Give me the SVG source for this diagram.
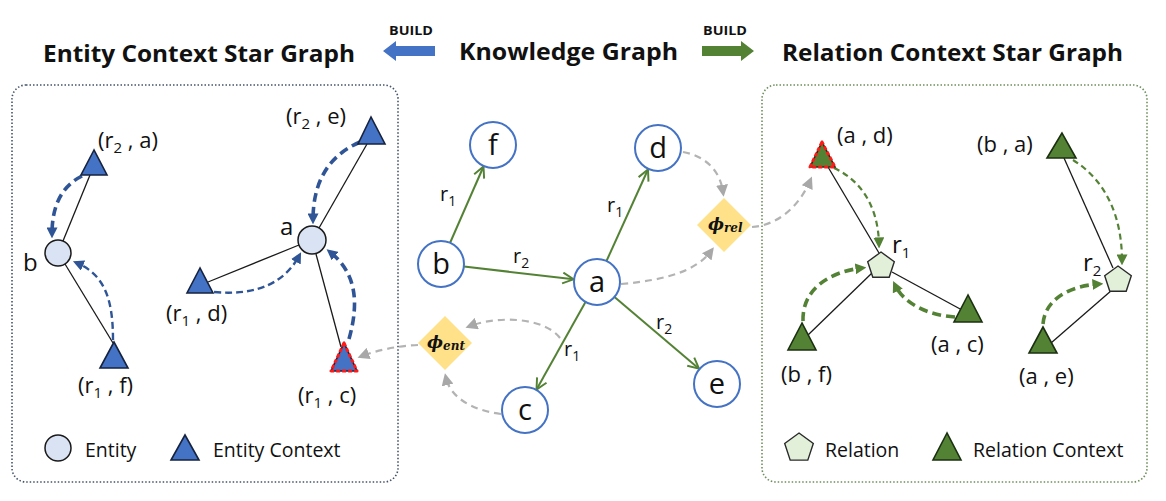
<svg xmlns="http://www.w3.org/2000/svg" width="1166" height="501" viewBox="0 0 1166 501">
<style>
  text { font-family: "Open Sans", "Noto Sans", sans-serif; fill: #111; }
  .title { font-weight: bold; font-size: 24px; }
  .build { font-weight: bold; font-size: 11.5px; }
  .lbl { font-size: 22px; }
  .sub { font-size: 15px; }
  .node { font-size: 29px; text-anchor: middle; }
  .elbl { font-size: 20px; }
  .esub { font-size: 14px; }
  .leg { font-size: 19.5px; }
  .phi { font-family: "DejaVu Serif", "Liberation Serif", serif; font-weight: bold; font-style: italic; font-size: 17px; }
  .kgc { fill: #fff; stroke: #4472C4; stroke-width: 2; }
  .ent { fill: #DAE3F3; stroke: #1a1a1a; stroke-width: 1.5; }
  .ectx { fill: #4472C4; stroke: #15233f; stroke-width: 1.6; }
  .rel { fill: #E2F0D9; stroke: #2a2a2a; stroke-width: 1.4; }
  .rctx { fill: #548235; stroke: #1b3010; stroke-width: 1.6; }
  .hl { stroke: #FF1A1A; stroke-width: 3; stroke-dasharray: 4 2; stroke-linejoin: round; }
  .blk { stroke: #1a1a1a; stroke-width: 1.3; fill: none; }
  .ge { stroke: #548235; stroke-width: 2; fill: none; }
  .gray { stroke: #B3B3B3; stroke-width: 2.2; stroke-dasharray: 7 5; fill: none; }
  .bthick { stroke: #2F5597; stroke-width: 3.6; stroke-dasharray: 9 5; fill: none; }
  .bthin { stroke: #2F5597; stroke-width: 2.4; stroke-dasharray: 7 4; fill: none; }
  .gthick { stroke: #548235; stroke-width: 3.6; stroke-dasharray: 9 5; fill: none; }
  .gthin { stroke: #548235; stroke-width: 2.2; stroke-dasharray: 6 4; fill: none; }
  .diam { fill: #FFE189; }
</style>
<defs>
  <marker id="mb" viewBox="0 0 10 10" refX="6" refY="5" markerWidth="11" markerHeight="11" markerUnits="userSpaceOnUse" orient="auto"><path d="M0,0 L10,5 L0,10 z" fill="#2F5597"/></marker>
  <marker id="mg" viewBox="0 0 10 10" refX="6" refY="5" markerWidth="11" markerHeight="11" markerUnits="userSpaceOnUse" orient="auto"><path d="M0,0 L10,5 L0,10 z" fill="#548235"/></marker>
  <marker id="mgr" viewBox="0 0 10 10" refX="6" refY="5" markerWidth="12" markerHeight="12" markerUnits="userSpaceOnUse" orient="auto"><path d="M0,0 L10,5 L0,10 z" fill="#A8A8A8"/></marker>
  <marker id="mo" viewBox="0 0 12 12" refX="11" refY="6" markerWidth="13" markerHeight="13" markerUnits="userSpaceOnUse" orient="auto"><path d="M1,1 L11,6 L1,11" fill="none" stroke="#548235" stroke-width="1.8"/></marker>
</defs>
<rect width="1166" height="501" fill="#fff"/>

<!-- Titles -->
<g id="titles">
  <text class="title" x="43" y="62" textLength="312" lengthAdjust="spacingAndGlyphs">Entity Context Star Graph</text>
  <text class="title" x="459" y="60" textLength="219" lengthAdjust="spacingAndGlyphs">Knowledge Graph</text>
  <text class="title" x="782" y="61" textLength="341" lengthAdjust="spacingAndGlyphs">Relation Context Star Graph</text>
  <text class="build" x="389" y="35" textLength="44" lengthAdjust="spacingAndGlyphs">BUILD</text>
  <text class="build" x="703" y="35" textLength="44" lengthAdjust="spacingAndGlyphs">BUILD</text>
  <polygon points="383,51 396,41 396,46 435,46 435,56 396,56 396,61" fill="#4472C4"/>
  <polygon points="702,46 741,46 741,41 754,51 741,61 741,56 702,56" fill="#548235"/>
</g>

<!-- Panels -->
<g id="panel-entity">
  <rect x="12" y="85" width="386" height="397" rx="14" fill="none" stroke="#44546A" stroke-width="1.6" stroke-dasharray="1.5 2"/>
</g>
<g id="panel-relation">
  <rect x="762" y="85" width="385" height="397" rx="14" fill="none" stroke="#6E8F5C" stroke-width="1.6" stroke-dasharray="1.5 2"/>
</g>

<!-- Connectors -->
<g id="connectors">
  <!-- entity star graph lines -->
  <line class="blk" x1="90" y1="175" x2="63" y2="241"/>
  <line class="blk" x1="65" y1="264" x2="113" y2="343"/>
  <line class="blk" x1="367" y1="144" x2="319" y2="228"/>
  <line class="blk" x1="208" y1="282" x2="299" y2="245"/>
  <line class="blk" x1="316" y1="254" x2="341" y2="347"/>
  <path class="bthick" d="M82 176 C 62 186 52 205 52 234" marker-end="url(#mb)"/>
  <path class="bthin" d="M113 340 C 113 300 105 275 77 263" marker-end="url(#mb)"/>
  <path class="bthick" d="M360 142 C 330 155 313 180 313 220" marker-end="url(#mb)"/>
  <path class="bthin" d="M214 292 C 258 296 285 282 299 256" marker-end="url(#mb)"/>
  <path class="bthick" d="M349 339 C 360 300 355 272 330 252" marker-end="url(#mb)"/>

  <!-- knowledge graph edges -->
  <line class="ge" x1="450" y1="243" x2="483.5" y2="166.5" marker-end="url(#mo)"/>
  <line class="ge" x1="606.5" y1="261" x2="648" y2="169.5" marker-end="url(#mo)"/>
  <line class="ge" x1="464" y1="266.5" x2="573.5" y2="279.3" marker-end="url(#mo)"/>
  <line class="ge" x1="585.5" y1="302" x2="536.5" y2="389.5" marker-end="url(#mo)"/>
  <line class="ge" x1="614.5" y1="297" x2="699" y2="368.7" marker-end="url(#mo)"/>

  <!-- gray aggregation arrows -->
  <path class="gray" d="M683 152 C 705 156 720 170 723 192" marker-end="url(#mgr)"/>
  <path class="gray" d="M621 284 C 668 280 697 270 711 251" marker-end="url(#mgr)"/>
  <path class="gray" d="M752 227 C 780 225 800 204 810 181" marker-end="url(#mgr)"/>
  <path class="gray" d="M501 414 C 470 410 450 396 446 378" marker-end="url(#mgr)"/>
  <path class="gray" d="M560 338 C 545 318 500 315 470 326" marker-end="url(#mgr)"/>
  <path class="gray" d="M418 345 C 397 346 378 350 362 356" marker-end="url(#mgr)"/>

  <!-- relation star graph lines -->
  <line class="blk" x1="828" y1="167" x2="879" y2="253"/>
  <line class="blk" x1="1064" y1="158" x2="1113" y2="268"/>
  <line class="blk" x1="808" y1="335" x2="872" y2="273"/>
  <line class="blk" x1="962" y1="310" x2="892" y2="272"/>
  <line class="blk" x1="1051" y1="343" x2="1112" y2="290"/>
  <path class="gthin" d="M834 168 C 860 180 878 205 879 244" marker-end="url(#mg)"/>
  <path class="gthin" d="M1073 160 C 1105 180 1122 215 1122 261" marker-end="url(#mg)"/>
  <path class="gthick" d="M803 321 C 802 290 828 272 862 268" marker-end="url(#mg)"/>
  <path class="gthick" d="M955 317 C 925 315 903 302 895 285" marker-end="url(#mg)"/>
  <path class="gthick" d="M1043 324 C 1045 300 1068 286 1099 284" marker-end="url(#mg)"/>
</g>

<!-- Entity context star graph nodes -->
<g id="ent-b">
  <circle class="ent" cx="58" cy="253" r="13"/>
  <text x="23" y="271" font-size="24">b</text>
</g>
<g id="ent-a">
  <circle class="ent" cx="312" cy="240" r="14"/>
  <text x="280" y="235" font-size="24">a</text>
</g>
<g id="ectx-r2a">
  <polygon class="ectx" points="94,150 81,175 107,175"/>
  <text class="lbl" x="98" y="148">(r<tspan class="sub" dy="5">2</tspan><tspan dy="-5"> , a)</tspan></text>
</g>
<g id="ectx-r1f">
  <polygon class="ectx" points="114,342 100,368 128,368"/>
  <text class="lbl" x="78" y="393">(r<tspan class="sub" dy="5">1</tspan><tspan dy="-5"> , f)</tspan></text>
</g>
<g id="ectx-r2e">
  <polygon class="ectx" points="371,117 358,144 385,144"/>
  <text class="lbl" x="286" y="124">(r<tspan class="sub" dy="5">2</tspan><tspan dy="-5"> , e)</tspan></text>
</g>
<g id="ectx-r1d">
  <polygon class="ectx" points="200,268 187,293 213,293"/>
  <text class="lbl" x="166" y="321">(r<tspan class="sub" dy="5">1</tspan><tspan dy="-5"> , d)</tspan></text>
</g>
<g id="ectx-r1c">
  <polygon class="ectx" points="344,343 331,371 357,371" stroke="none"/>
  <polygon class="hl" points="344,343 331,371 357,371" fill="none"/>
  <text class="lbl" x="298" y="403">(r<tspan class="sub" dy="5">1</tspan><tspan dy="-5"> , c)</tspan></text>
</g>
<g id="legend-entity">
  <circle class="ent" cx="58" cy="448" r="13"/>
  <text class="leg" x="85" y="457">Entity</text>
  <polygon class="ectx" points="185,435 171,460 199,460"/>
  <text class="leg" x="213" y="457">Entity Context</text>
</g>

<!-- Knowledge graph nodes -->
<g id="kg-f"><circle class="kgc" cx="493" cy="145" r="23"/><text class="node" x="493" y="155">f</text></g>
<g id="kg-d"><circle class="kgc" cx="658" cy="148" r="23"/><text class="node" x="658" y="158">d</text></g>
<g id="kg-b"><circle class="kgc" cx="441" cy="264" r="23"/><text class="node" x="441" y="274">b</text></g>
<g id="kg-a"><circle class="kgc" cx="597" cy="282" r="23"/><text class="node" x="597" y="292">a</text></g>
<g id="kg-c"><circle class="kgc" cx="525" cy="410" r="23"/><text class="node" x="525" y="420">c</text></g>
<g id="kg-e"><circle class="kgc" cx="717" cy="384" r="23"/><text class="node" x="717" y="394">e</text></g>
<g id="kg-labels">
  <text class="elbl" x="440" y="201">r<tspan class="esub" dy="5">1</tspan></text>
  <text class="elbl" x="607" y="212">r<tspan class="esub" dy="5">1</tspan></text>
  <text class="elbl" x="513" y="263">r<tspan class="esub" dy="5">2</tspan></text>
  <text class="elbl" x="564" y="356">r<tspan class="esub" dy="5">1</tspan></text>
  <text class="elbl" x="656" y="329">r<tspan class="esub" dy="5">2</tspan></text>
</g>
<g id="phi-rel">
  <polygon class="diam" points="724,198 751,225 724,252 697,225"/>
  <text class="phi" x="708" y="230">ϕ<tspan font-size="12" dy="2">rel</tspan></text>
</g>
<g id="phi-ent">
  <polygon class="diam" points="445,316 472,343 445,370 418,343"/>
  <text class="phi" x="427" y="348">ϕ<tspan font-size="12" dy="2">ent</tspan></text>
</g>

<!-- Relation context star graph nodes -->
<g id="rel-r1">
  <polygon class="rel" points="881,252 894.3,261.7 889.2,277.3 872.8,277.3 867.7,261.7"/>
  <text x="892" y="253" font-size="24">r<tspan font-size="15" dy="5">1</tspan></text>
</g>
<g id="rel-r2">
  <polygon class="rel" points="1118,266 1131.3,275.7 1126.2,291.3 1109.8,291.3 1104.7,275.7"/>
  <text x="1083" y="271" font-size="24">r<tspan font-size="15" dy="5">2</tspan></text>
</g>
<g id="rctx-ad">
  <polygon class="rctx" points="822,142 810,167 835,167" stroke="none"/>
  <polygon class="hl" points="822,142 810,167 835,167" fill="none"/>
  <text class="lbl" x="837" y="143">(a , d)</text>
</g>
<g id="rctx-ba">
  <polygon class="rctx" points="1062,133 1047,158 1076,158"/>
  <text class="lbl" x="977" y="152">(b , a)</text>
</g>
<g id="rctx-bf">
  <polygon class="rctx" points="802,323 788,350 816,350"/>
  <text class="lbl" x="781" y="382">(b , f)</text>
</g>
<g id="rctx-ac">
  <polygon class="rctx" points="968,295 954,322 982,322"/>
  <text class="lbl" x="931" y="352">(a , c)</text>
</g>
<g id="rctx-ae">
  <polygon class="rctx" points="1043,327 1029,353 1057,353"/>
  <text class="lbl" x="1019" y="384">(a , e)</text>
</g>
<g id="legend-relation">
  <polygon class="rel" points="799,433 813.3,443.4 807.8,460.1 790.2,460.1 784.7,443.4"/>
  <text class="leg" x="825" y="457">Relation</text>
  <polygon class="rctx" points="947,433 933,460 961,460"/>
  <text class="leg" x="973" y="457">Relation Context</text>
</g>
</svg>
